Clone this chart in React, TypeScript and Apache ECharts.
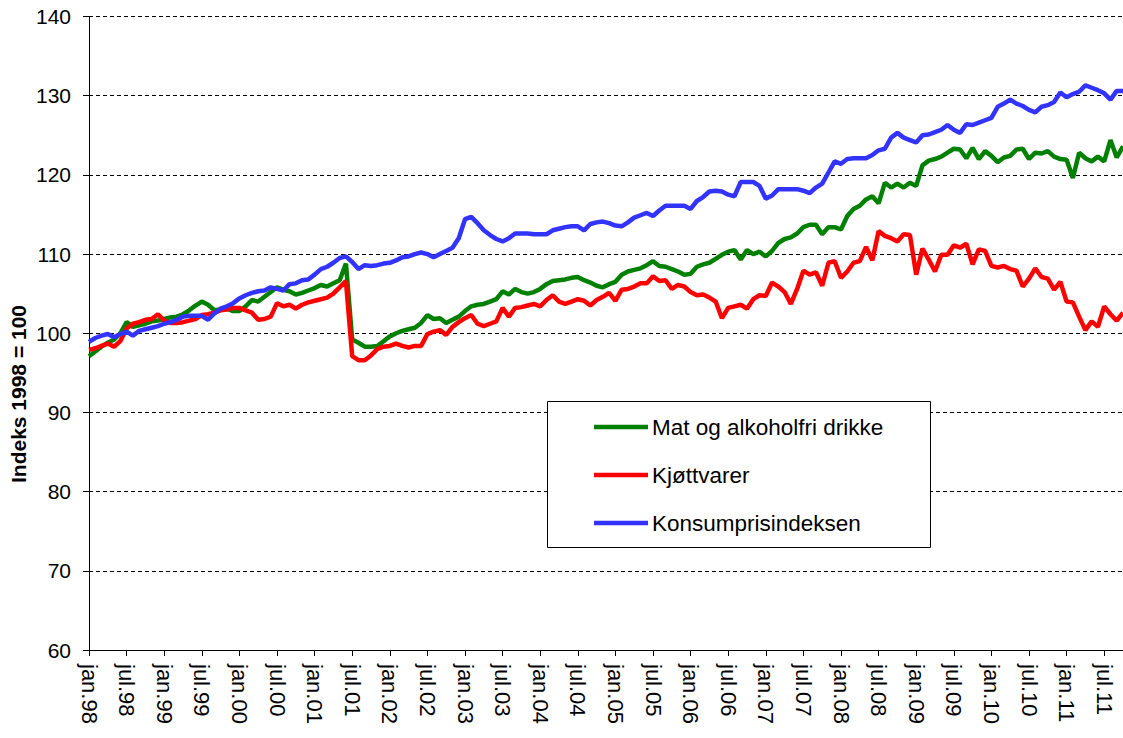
import React, { useEffect, useRef } from "react";
import * as echarts from "echarts";

const monthNames = ["jan", "feb", "mar", "apr", "mai", "jun", "jul", "aug", "sep", "okt", "nov", "des"];
const years = ["98", "99", "00", "01", "02", "03", "04", "05", "06", "07", "08", "09", "10", "11"];
const nMonths = 166;
const categories: string[] = [];
for (let i = 0; i < nMonths; i++) {
  categories.push(monthNames[i % 12] + "." + years[Math.floor(i / 12)]);
}

const seriesNames = ["Mat og alkoholfri drikke", "Kjøttvarer", "Konsumprisindeksen"];
const seriesColors = ["#008000", "#ff0000", "#3333ff"];

const matData = [
  97.1, 97.7, 98.3, 98.8, 99.2, 100.0, 101.4, 100.8, 101.0, 101.2, 101.5, 101.6,
  101.8, 102.0, 102.1, 102.4, 102.9, 103.5, 104.0, 103.6, 102.9, 103.0, 103.1, 102.8,
  102.8, 103.4, 104.2, 104.0, 104.6, 105.2, 105.8, 105.5, 105.3, 104.9, 105.1, 105.4,
  105.7, 106.1, 105.9, 106.3, 106.7, 108.8, 99.2, 98.8, 98.3, 98.3, 98.4, 99.0,
  99.6, 100.0, 100.3, 100.5, 100.7, 101.3, 102.3, 101.8, 101.9, 101.3, 101.7, 102.1,
  102.8, 103.4, 103.6, 103.7, 104.0, 104.3, 105.3, 104.9, 105.6, 105.2, 105.0, 105.2,
  105.6, 106.2, 106.6, 106.7, 106.8, 107.0, 107.1, 106.7, 106.4, 106.0, 105.8, 106.2,
  106.5, 107.4, 107.8, 108.0, 108.2, 108.6, 109.1, 108.5, 108.4, 108.1, 107.8, 107.4,
  107.5, 108.4, 108.7, 108.9, 109.4, 109.9, 110.3, 110.5, 109.3, 110.5, 110.0, 110.3,
  109.7, 110.4, 111.4, 111.9, 112.1, 112.6, 113.4, 113.7, 113.7, 112.5, 113.4, 113.4,
  113.1, 114.8, 115.7, 116.1, 116.9, 117.3, 116.4, 119.0, 118.4, 118.9, 118.4, 119.0,
  118.6, 121.2, 121.8, 122.0, 122.3, 122.8, 123.3, 123.2, 122.1, 123.4, 122.0, 123.0,
  122.4, 121.6, 122.2, 122.4, 123.2, 123.3, 122.0, 122.8, 122.7, 123.0, 122.3, 122.0,
  121.9, 119.6, 122.8, 122.1, 121.7, 122.3, 121.7, 124.4, 122.2, 123.6,
];

const kjottData = [
  97.9, 98.1, 98.4, 98.7, 98.3, 99.0, 100.6, 101.2, 101.4, 101.7, 101.8, 102.4,
  101.6, 101.3, 101.3, 101.4, 101.6, 101.8, 102.3, 102.4, 102.6, 102.9, 103.0, 103.2,
  103.2, 102.9, 102.6, 101.7, 101.8, 102.1, 103.8, 103.4, 103.6, 103.1, 103.6, 103.9,
  104.1, 104.3, 104.5, 105.0, 105.8, 106.6, 97.1, 96.6, 96.6, 97.2, 98.0, 98.3,
  98.4, 98.7, 98.4, 98.2, 98.4, 98.4, 99.9, 100.2, 100.4, 99.8, 100.8, 101.4,
  101.9, 102.3, 101.2, 100.9, 101.2, 101.5, 103.2, 102.1, 103.2, 103.3, 103.5, 103.7,
  103.4, 104.2, 104.8, 104.0, 103.7, 104.0, 104.3, 104.1, 103.5, 104.2, 104.6, 105.1,
  104.1, 105.5, 105.6, 105.9, 106.3, 106.3, 107.2, 106.6, 106.7, 105.6, 106.1, 105.9,
  105.2, 104.8, 104.9, 104.5, 104.0, 101.9, 103.2, 103.4, 103.6, 103.1, 104.3, 104.8,
  104.7, 106.4, 105.9, 105.2, 103.7, 105.6, 107.9, 107.4, 107.7, 106.0, 108.9, 109.1,
  107.0, 107.8, 108.9, 109.1, 110.9, 109.2, 112.9, 112.3, 112.0, 111.6, 112.5, 112.4,
  107.4, 110.7, 109.3, 107.8, 109.9, 109.9, 111.1, 110.8, 111.3, 108.7, 110.6, 110.4,
  108.5, 108.3, 108.5, 108.1, 107.9, 105.9, 106.9, 108.2, 107.1, 106.9, 105.5, 106.5,
  104.0, 103.9, 102.1, 100.4, 101.5, 100.8, 103.4, 102.4, 101.6, 102.6,
];

const kpiData = [
  98.9, 99.4, 99.7, 99.9, 99.5, 99.9, 100.2, 99.7, 100.3, 100.5, 100.7, 100.9,
  101.2, 101.4, 101.7, 102.1, 102.2, 102.2, 102.2, 101.7, 102.5, 103.1, 103.4, 103.8,
  104.4, 104.8, 105.1, 105.3, 105.4, 105.8, 105.6, 105.4, 106.2, 106.3, 106.7, 106.8,
  107.4, 108.1, 108.4, 108.9, 109.5, 109.7, 109.0, 108.1, 108.6, 108.5, 108.6, 108.8,
  108.9, 109.2, 109.6, 109.7, 110.0, 110.2, 110.0, 109.6, 110.0, 110.4, 110.8, 112.0,
  114.4, 114.7, 113.9, 113.0, 112.4, 111.9, 111.6, 112.0, 112.6, 112.6, 112.6, 112.5,
  112.5, 112.5, 113.0, 113.2, 113.4, 113.5, 113.5, 113.0, 113.8, 114.0, 114.1, 113.9,
  113.6, 113.5, 114.0, 114.6, 114.9, 115.2, 114.8, 115.5, 116.1, 116.1, 116.1, 116.1,
  115.7, 116.7, 117.2, 117.9, 118.0, 117.9, 117.5, 117.3, 119.1, 119.1, 119.1, 118.6,
  117.0, 117.4, 118.2, 118.2, 118.2, 118.2, 118.0, 117.7, 118.4, 118.9, 120.3, 121.7,
  121.4, 122.0, 122.1, 122.1, 122.1, 122.5, 123.1, 123.3, 124.7, 125.3, 124.7, 124.4,
  124.1, 125.0, 125.1, 125.4, 125.7, 126.3, 125.7, 125.3, 126.4, 126.3, 126.6, 126.9,
  127.2, 128.6, 129.0, 129.5, 129.0, 128.7, 128.2, 127.9, 128.6, 128.8, 129.2, 130.4,
  129.8, 130.2, 130.5, 131.3, 131.0, 130.7, 130.3, 129.5, 130.6, 130.6,
];

const allData = [matData, kjottData, kpiData];

const FONT = '"Liberation Sans", Arial, sans-serif';

export default function App() {
  const ref = useRef<HTMLDivElement>(null);
  useEffect(() => {
    document.body.style.margin = "0";
    const chart = echarts.init(ref.current!, null, { renderer: "svg" });

    const legendTop = 401.5;
    const rowYs = [427, 475, 523];
    const legendGraphics: any[] = [
      {
        type: "rect",
        shape: { x: 547.5, y: legendTop, width: 383, height: 146 },
        style: { fill: "#ffffff", stroke: "#000000", lineWidth: 1 },
        z: 100,
      },
    ];
    seriesNames.forEach((name, i) => {
      legendGraphics.push({
        type: "line",
        shape: { x1: 594, y1: rowYs[i], x2: 648, y2: rowYs[i] },
        style: { stroke: seriesColors[i], lineWidth: 4.5 },
        z: 101,
      });
      legendGraphics.push({
        type: "text",
        x: 652,
        y: rowYs[i],
        style: {
          text: name,
          fontSize: 22.5,
          fontFamily: FONT,
          fill: "#000",
          align: "left",
          verticalAlign: "middle",
        },
        z: 101,
      });
    });

    chart.setOption({
      animation: false,
      backgroundColor: "#ffffff",
      grid: { left: 89, right: 0, top: 16.5, bottom: 88, containLabel: false },
      xAxis: {
        type: "category",
        data: categories,
        boundaryGap: false,
        axisLine: { lineStyle: { color: "#000", width: 1 } },
        axisTick: { interval: 5, length: 6, lineStyle: { color: "#000" } },
        axisLabel: {
          interval: 5,
          rotate: -90,
          margin: 14,
          fontSize: 22,
          fontFamily: FONT,
          color: "#000",
        },
        splitLine: { show: false },
      },
      yAxis: {
        type: "value",
        min: 60,
        max: 140,
        interval: 10,
        axisLine: { show: true, lineStyle: { color: "#000", width: 1 } },
        axisTick: { show: true, length: 6, lineStyle: { color: "#000" } },
        axisLabel: { margin: 18, fontSize: 21, fontFamily: FONT, color: "#000" },
        splitLine: { show: true, lineStyle: { color: "#000", type: [4, 3], width: 1 } },
      },
      graphic: [
        {
          type: "text",
          x: 18,
          y: 394,
          rotation: Math.PI / 2,
          style: {
            text: "Indeks 1998 = 100",
            fontSize: 21,
            fontWeight: "bold",
            fontFamily: FONT,
            fill: "#000",
            align: "center",
            verticalAlign: "middle",
          },
        },
        ...legendGraphics,
      ],
      series: seriesNames.map((name, i) => ({
        name,
        type: "line",
        data: allData[i],
        symbol: "none",
        smooth: false,
        lineStyle: { color: seriesColors[i], width: 4.5 },
        itemStyle: { color: seriesColors[i] },
        z: 2 + i,
      })),
    });
    return () => chart.dispose();
  }, []);
  return <div ref={ref} style={{ width: 1123, height: 738 }} />;
}
